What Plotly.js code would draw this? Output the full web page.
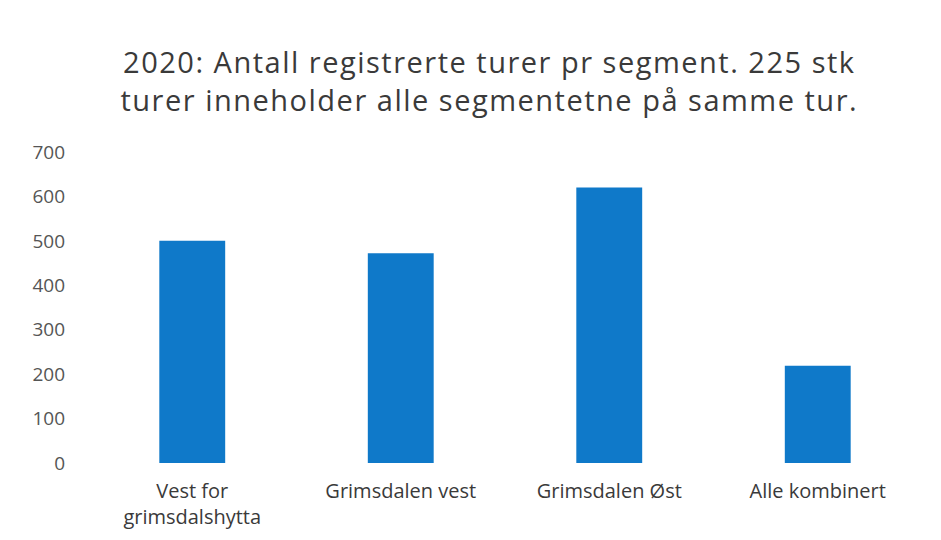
<!DOCTYPE html>
<html>
<head>
<meta charset="utf-8">
<script src="https://cdn.plot.ly/plotly-3.0.1.min.js"></script>
<style>
html,body{margin:0;padding:0;background:#fff;}
#chart{width:941px;height:540px;}
#chart .gtitle{letter-spacing:1.5px;}
</style>
</head>
<body>
<div id="chart"></div>
<script>
const categories = ["Vest for<br>grimsdalshytta", "Grimsdalen vest", "Grimsdalen Øst", "Alle kombinert"];
const trips = [500, 472, 620, 219];
const yTicks = [0, 100, 200, 300, 400, 500, 600, 700];

const data = [{
  type: "bar",
  x: categories,
  y: trips,
  marker: {color: "#0f79c9"},
  hoverinfo: "x+y"
}];

const layout = {
  width: 941,
  height: 540,
  paper_bgcolor: "#ffffff",
  plot_bgcolor: "#ffffff",
  margin: {l: 88, r: 19, t: 152, b: 77},
  bargap: 0.684,
  showlegend: false,
  font: {family: "'Open Sans', sans-serif", color: "#404040"},
  title: {
    text: "2020: Antall registrerte turer pr segment. 225 stk<br>turer inneholder alle segmentetne på samme tur.",
    font: {family: "'Open Sans', sans-serif", size: 29, color: "#3a3a3a"},
    xref: "container", x: 0.52, xanchor: "center",
    yref: "container", y: 0.865, yanchor: "top"
  },
  xaxis: {
    type: "category",
    tickfont: {size: 20, color: "#3a3a3a"},
    showline: false, showgrid: false, zeroline: false,
    ticks: "",
    ticklabelstandoff: 14
  },
  yaxis: {
    range: [0, 700],
    tickvals: yTicks,
    ticktext: yTicks.map(String),
    tickfont: {size: 19, color: "#555555"},
    showgrid: false, zeroline: false, showline: false,
    ticks: "",
    ticklabelstandoff: 22
  }
};

Plotly.newPlot("chart", data, layout, {displayModeBar: false, staticPlot: true});
</script>
</body>
</html>
